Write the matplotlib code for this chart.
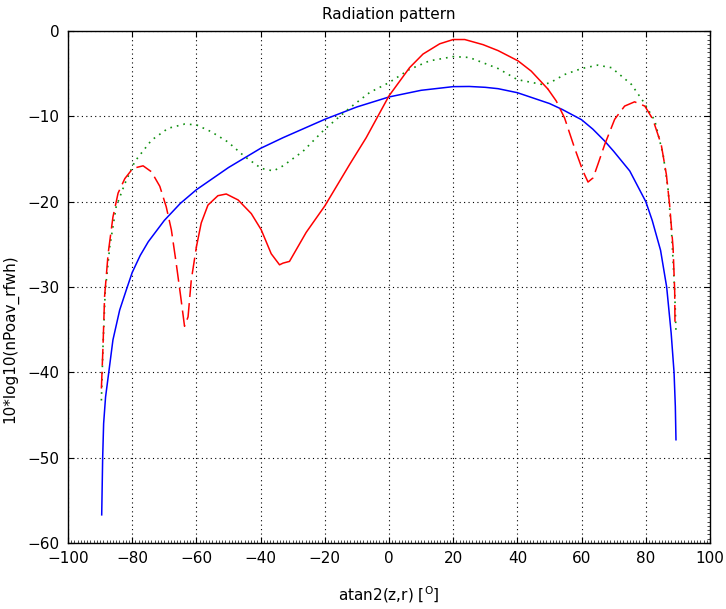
import matplotlib
matplotlib.use("Agg")
import matplotlib.pyplot as plt
from matplotlib.ticker import MultipleLocator

plt.rcParams["font.family"] = "DejaVu Sans"
plt.rcParams["font.size"] = 11

# blue: smooth main lobe
ang_blue = [-89.5, -89.2, -88.9, -88.3, -87.3, -86, -83.9, -81.8, -80, -77.5, -75,
            -70, -65, -60, -50, -40, -33, -20, -10, 0, 10, 20, 25, 30, 34, 40,
            50, 54, 60, 63.5, 67.2, 70, 75, 80, 82, 84.6, 86.5, 87.9, 88.8, 89.2, 89.4]
db_blue = [-56.7, -50, -46, -42.9, -40, -36.2, -32.7, -30.3, -28.3, -26.3, -24.7,
           -22.2, -20.2, -18.6, -16.0, -13.75, -12.5, -10.35, -8.9, -7.73, -6.95, -6.52, -6.5, -6.6, -6.76, -7.23,
           -8.5, -9.2, -10.4, -11.5, -12.9, -14.1, -16.4, -20, -22.2, -25.7, -30, -35.4, -40, -44, -47.9]

# green: dotted curve
ang_green = [-89.6, -89.1, -88.4, -87, -85, -82.3, -79.2, -74, -68.8, -63.6, -60,
             -55.4, -50.2, -45, -39.8, -36, -33, -26.8, -20, -12.2, -6, 0, 6.4,
             12.6, 20, 25, 34, 40, 47.5, 50, 54.7, 60, 65, 69.3, 75.5, 79.1,
             82.8, 85.4, 86.9, 88, 89, 89.4]
db_green = [-43.3, -37, -30.5, -25.3, -20.6, -17.9, -15.3, -12.8, -11.4, -10.9, -11.0,
            -11.8, -13.0, -14.7, -16.1, -16.4, -15.8, -14.1, -11.5, -9.0, -7.2, -6.05, -4.5,
            -3.5, -3.0, -3.1, -4.4, -5.7, -6.25, -6.1, -5.1, -4.4, -4.0, -4.3, -6.25, -8.2,
            -10.5, -14.5, -18.4, -23.4, -30.5, -35.2]

# red: dashed curve with side lobes
ang_red = [-89.6, -89.1, -88.6, -87.5, -86, -84.4, -82.3, -79.8, -76.6, -74, -71.4,
           -69.4, -67.8, -66.3, -64.9, -63.7, -62.6, -61.6, -60, -58.5, -56.4,
           -53.3, -50.7, -47, -42.9, -39.8, -36.7, -34.1, -33, -31, -25.8, -20,
           -12.2, -7.1, -2.9, 0, 3.3, 6.4, 10.6, 15.8, 20, 23.6, 29.3, 34, 40.2,
           44.3, 49.5, 52.1, 54.7, 57.8, 60.4, 62, 63.6, 65.1, 67.2, 70.3, 73.4,
           76.5, 79.7, 82.2, 84.8, 86.4, 87.4, 88.5, 89, 89.1]
db_red = [-41.9, -37, -31.1, -26.1, -21.8, -19, -17.3, -16.1, -15.8, -16.5, -18.2,
          -20.6, -23.3, -27.2, -31.1, -34.6, -33.5, -29.2, -25.3, -22.5, -20.4,
          -19.3, -19.1, -19.8, -21.4, -23.3, -26.1, -27.4, -27.2, -27, -23.6, -20.5,
          -15.6, -12.5, -9.6, -7.6, -5.9, -4.3, -2.7, -1.5, -1.0, -1.0, -1.6, -2.3, -3.5,
          -4.7, -6.8, -8.2, -10.2, -13.7, -16.4, -17.7, -17.2, -15.6, -13.3, -10.35, -8.8,
          -8.3, -8.8, -10.35, -13.3, -16.8, -20.3, -25.4, -30.5, -34.7]

fig = plt.figure(figsize=(7.26, 6.09), dpi=100)
ax = fig.add_axes([68 / 726, 1 - 543 / 609, 642 / 726, 512 / 609])

ax.plot(ang_blue, db_blue, color="#0000ff", lw=1.1)
ax.plot(ang_green, db_green, color="#109010", lw=1.2, linestyle=(0, (1, 3)))

# red is drawn dashed on the steep flanks and solid across the main lobe
i0 = ang_red.index(-60)
i1 = ang_red.index(49.5)
dash = (0, (11, 4))
ax.plot(ang_red[:i0 + 1], db_red[:i0 + 1], color="#ff0000", lw=1.1, linestyle=dash)
ax.plot(ang_red[i0:i1 + 1], db_red[i0:i1 + 1], color="#ff0000", lw=1.1)
ax.plot(ang_red[i1:], db_red[i1:], color="#ff0000", lw=1.1, linestyle=dash)

ax.set_xlim(-100, 100)
ax.set_ylim(-60, 0)
ax.xaxis.set_major_locator(MultipleLocator(20))
ax.yaxis.set_major_locator(MultipleLocator(10))
ax.xaxis.set_minor_locator(MultipleLocator(1))
ax.yaxis.set_minor_locator(MultipleLocator(0.5))

ax.grid(True, which="major", color="black", linestyle=(0, (1, 3)), lw=0.8)
ax.tick_params(which="major", direction="in", length=4, width=0.8,
               top=True, right=True, labelsize=11, pad=6)
ax.tick_params(which="minor", direction="in", length=2, width=0.5,
               top=False, left=False, bottom=True, right=True)
for s in ax.spines.values():
    s.set_linewidth(1.0)

ax.set_title("Radiation pattern", fontsize=11, pad=9)
ax.set_xlabel("atan2(z,r) [$^{\\mathregular{O}}$]", fontsize=11)
ax.set_ylabel("10*log10(nPoav_rfwh)", fontsize=11)
ax.xaxis.set_label_coords(0.5, -0.08)
ax.yaxis.set_label_coords(-0.078, 0.40)

fig.savefig("out.png", dpi=100)
